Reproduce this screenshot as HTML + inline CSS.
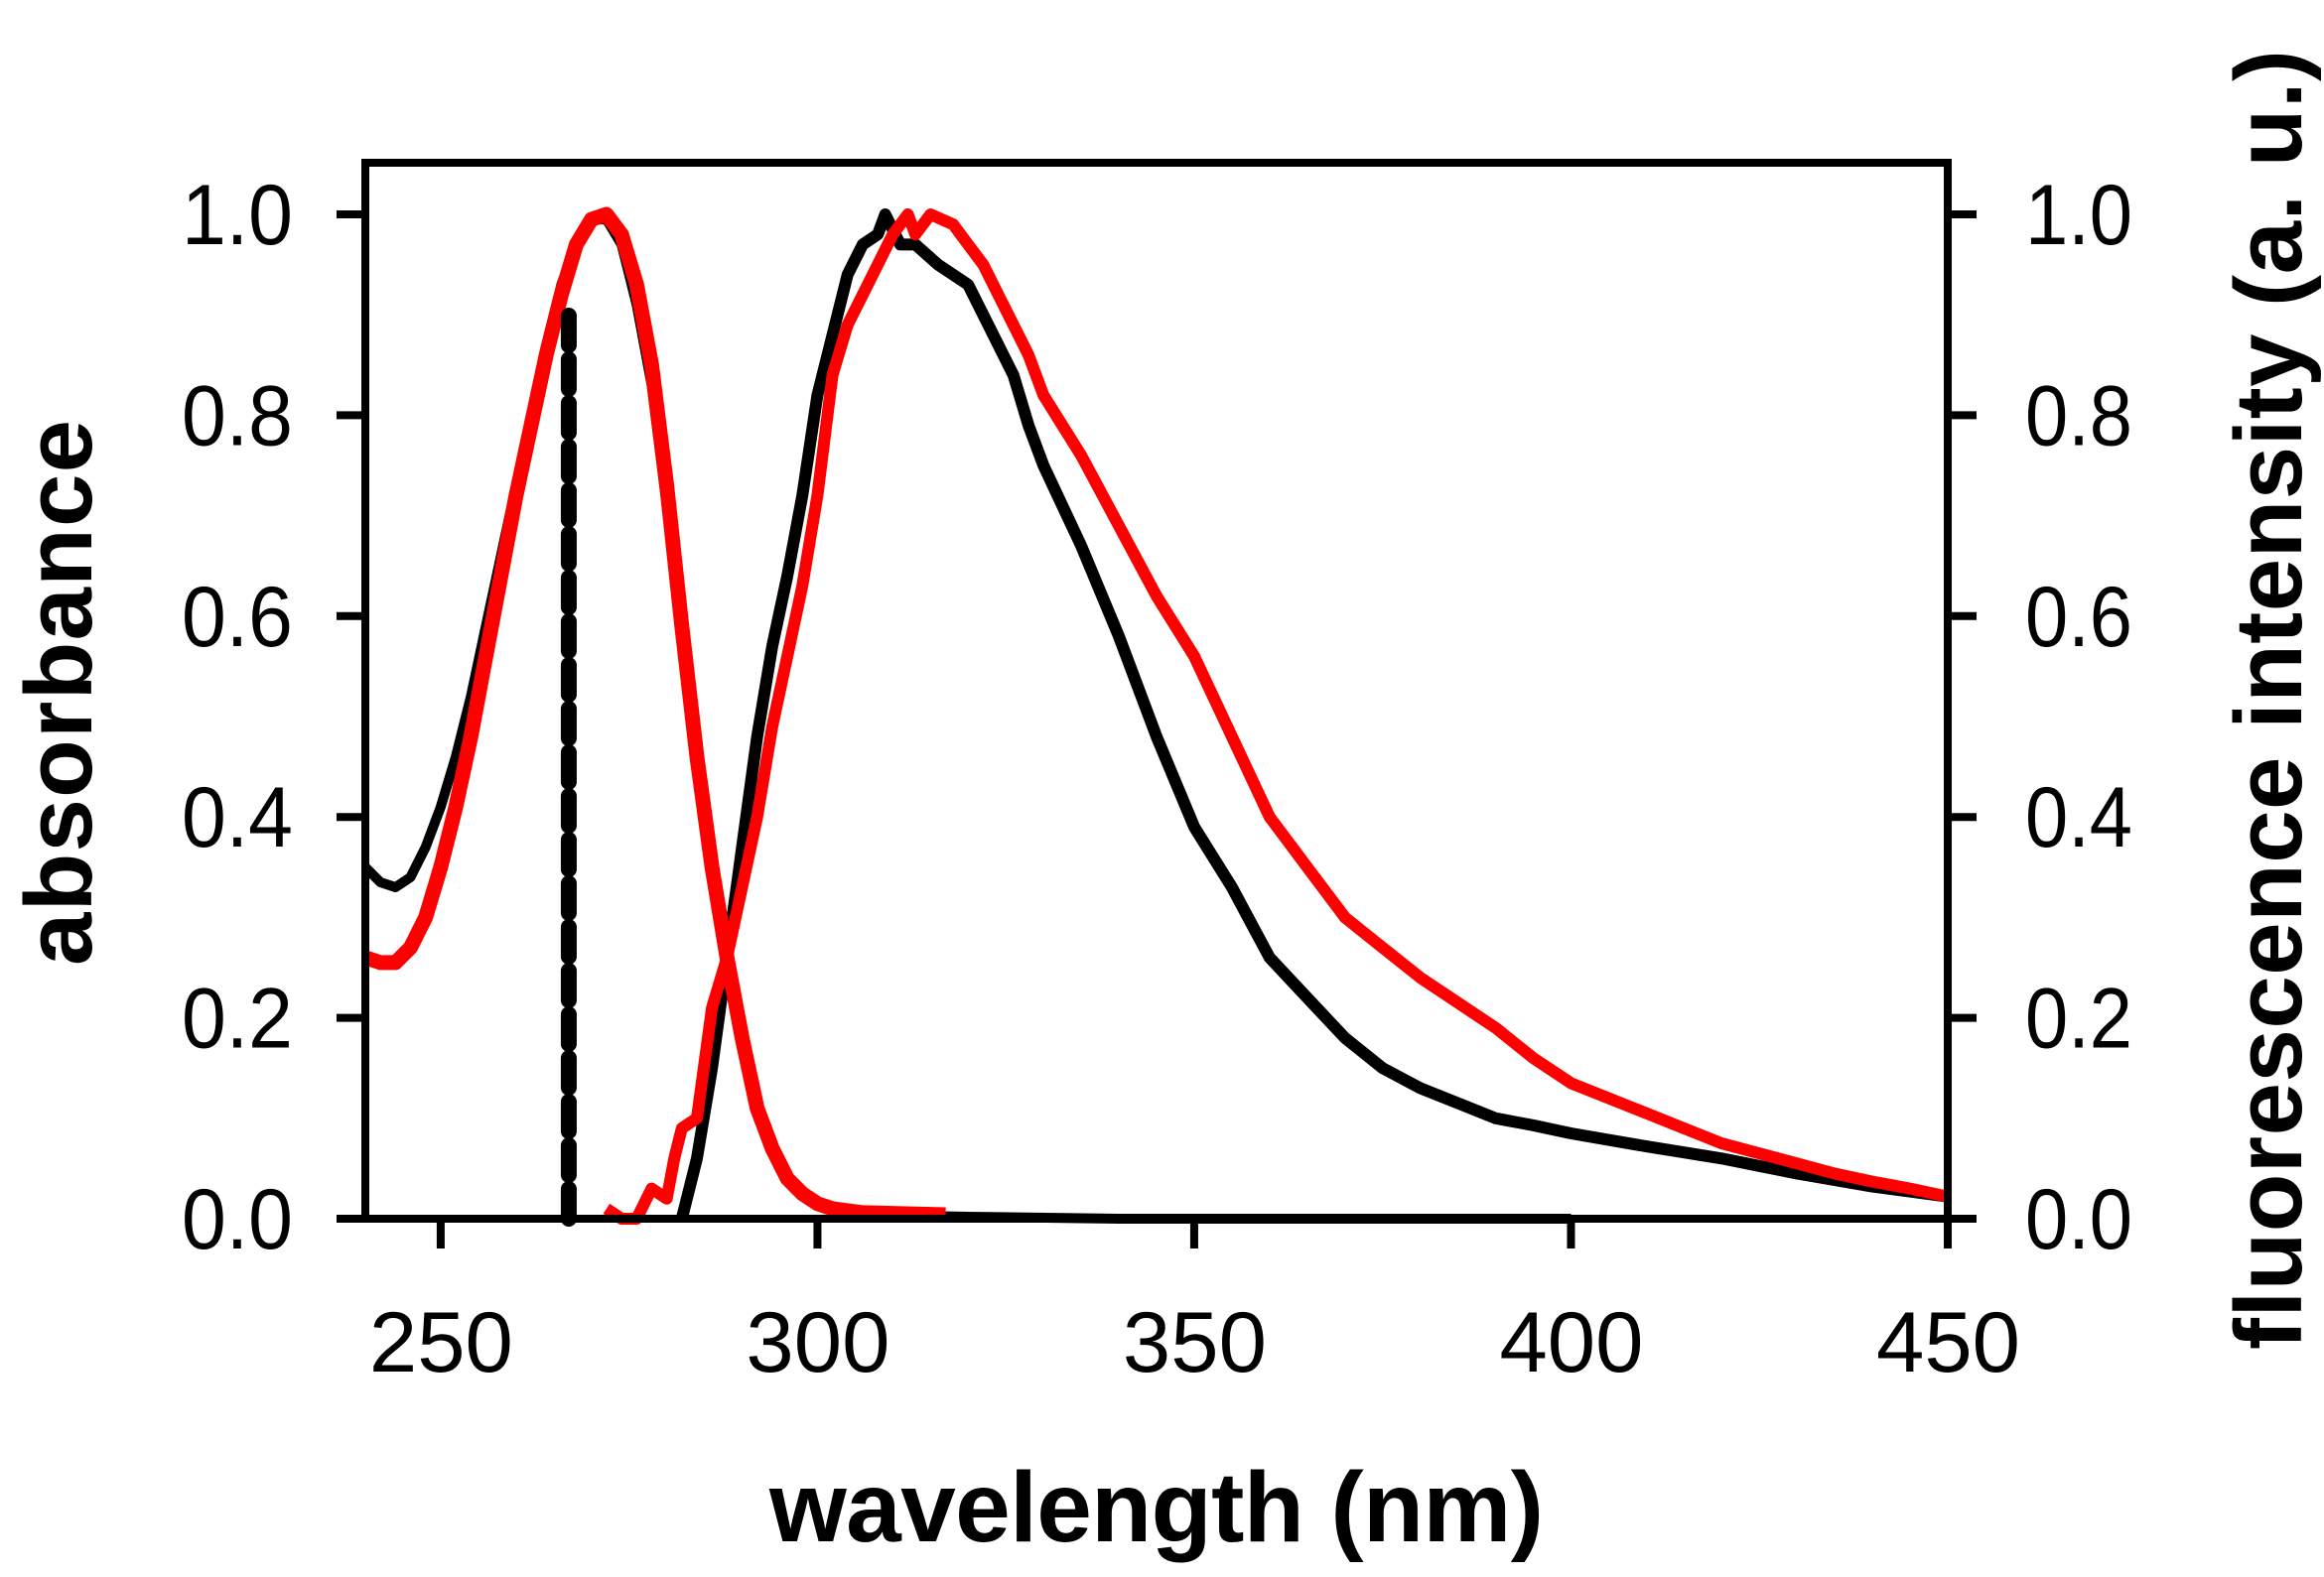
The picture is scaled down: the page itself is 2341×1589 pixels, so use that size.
<!DOCTYPE html>
<html><head><meta charset="utf-8"><style>
html,body{margin:0;padding:0;background:#fff;}
svg{display:block;font-family:"Liberation Sans",Arial,sans-serif;}
</style></head><body>
<svg id="chart" width="2341" height="1589" viewBox="0 0 2341 1589">
<g id="plot"></g>
<text x="1165" y="1553" font-size="100" font-weight="bold" text-anchor="middle" textLength="780">wavelength (nm)</text>
<text transform="translate(92,698) rotate(-90)" font-size="96" font-weight="bold" text-anchor="middle" textLength="550">absorbance</text>
<text transform="translate(2318,705) rotate(-90)" font-size="96" font-weight="bold" text-anchor="middle" textLength="1310">fluorescence intensity (a. u.)</text>
</svg>
<script>
const xTicks=[250,300,350,400,450];
const yTicks=[0,0.2,0.4,0.6,0.8,1.0];
const yTickLabels=["0.0","0.2","0.4","0.6","0.8","1.0"];
const absBlackWl=[240,242,244,246,248,250,252,254,256,258,260,262,264,266,268,270,272,274,276,278,280,282,284,286,288,290,292,294,296,298,300,302,306,320,340,400];
const absBlackVal=[.35,.335,.33,.34,.37,.41,.46,.52,.59,.66,.73,.80,.87,.93,.97,.995,.995,.97,.91,.83,.71,.58,.45,.34,.25,.18,.11,.07,.04,.025,.015,.008,.004,.002,0,0];
const absRedWl=[240,242,244,246,248,250,252,254,256,258,260,262,264,266,268,270,272,274,276,278,280,282,284,286,288,290,292,294,296,298,300,302,306,317];
const absRedVal=[.26,.255,.255,.27,.30,.35,.41,.48,.56,.64,.72,.79,.86,.92,.97,.995,1.0,.98,.93,.85,.73,.59,.46,.35,.26,.18,.11,.07,.04,.025,.015,.01,.006,.004];
const emBlackWl=[282,284,286,288,290,292,294,296,298,300,302,304,306,308,309,311,313,316,318,320,322,324,326,328,330,335,340,345,350,355,360,365,370,375,380,385,390,395,400,410,420,430,440,450];
const emBlackVal=[0,.06,.15,.26,.37,.48,.57,.64,.72,.82,.88,.94,.97,.98,1.0,.97,.97,.95,.94,.93,.90,.87,.84,.79,.75,.67,.58,.48,.39,.33,.26,.22,.18,.15,.13,.115,.10,.093,.085,.072,.06,.045,.032,.022];
const emRedWl=[272,274,276,278,280,281,282,284,286,288,290,292,294,296,298,300,302,304,306,308,310,312,313,315,318,320,322,324,326,328,330,335,340,345,350,355,360,365,370,375,380,385,390,395,400,405,410,415,420,425,430,435,440,445,450];
const emRedVal=[.01,0,0,.03,.02,.06,.09,.10,.21,.26,.33,.40,.49,.56,.63,.72,.84,.89,.92,.95,.98,1.0,.98,1.0,.99,.97,.95,.92,.89,.86,.82,.76,.69,.62,.56,.48,.40,.35,.30,.27,.24,.215,.19,.16,.135,.12,.105,.09,.075,.065,.055,.045,.037,.03,.022];
const excWl=[267];
const excVal=[0.9];

const NS="http://www.w3.org/2000/svg";
const L=368,R=1962,T=164,Y0=1228,Y1=216;
const xs=w=>L+(w-240)*(R-L)/210;
const ys=v=>Y0-v*(Y0-Y1);
const g=document.getElementById('plot');
function mk(tag,attrs){const e=document.createElementNS(NS,tag);for(const k in attrs)e.setAttribute(k,attrs[k]);g.appendChild(e);return e;}
function pts(wl,val){return wl.map((w,i)=>xs(w).toFixed(1)+","+ys(val[i]).toFixed(1)).join(" ");}

let p;
p=mk('polyline',{points:pts(absBlackWl,absBlackVal),fill:'none',stroke:'#000','stroke-width':10,'stroke-linejoin':'round'});


p=mk('polyline',{points:pts(emBlackWl,emBlackVal),fill:'none',stroke:'#000','stroke-width':12,'stroke-linejoin':'round'});


p=mk('polyline',{points:pts(absRedWl,absRedVal),fill:'none',stroke:'#ff0000','stroke-width':15,'stroke-linejoin':'round'});


p=mk('polyline',{points:pts(emRedWl,emRedVal),fill:'none',stroke:'#ff0000','stroke-width':12,'stroke-linejoin':'round'});


p=mk('line',{x1:xs(excWl[0]),x2:xs(excWl[0]),y1:ys(0),y2:ys(excVal[0]),stroke:'#000','stroke-width':16,'stroke-dasharray':'30 14','stroke-linecap':'round'});



p=mk('rect',{x:L,y:T,width:R-L,height:Y0-T,fill:'none',stroke:'#000','stroke-width':8});



xTicks.forEach(t=>{
  const x=xs(t);
  const tk=mk('line',{x1:x,x2:x,y1:Y0,y2:Y0+30,stroke:'#000','stroke-width':8});
  
  
  const tx=mk('text',{x:x-72,y:1382,'font-size':86,'text-anchor':'start',textLength:145,lengthAdjust:'spacingAndGlyphs'});
  tx.textContent=t;
  
  
});
yTicks.forEach((t,i)=>{
  const y=ys(t);
  const a=mk('line',{x1:L-29,x2:L,y1:y,y2:y,stroke:'#000','stroke-width':8});
  
  
  const b=mk('line',{x1:R,x2:R+29,y1:y,y2:y,stroke:'#000','stroke-width':8});
  
  
  const l=mk('text',{x:183,y:y+30,'font-size':86,'text-anchor':'start',textLength:112,lengthAdjust:'spacingAndGlyphs'});
  l.textContent=yTickLabels[i];
  
  
  const r=mk('text',{x:2040,y:y+30,'font-size':86,'text-anchor':'start',textLength:108,lengthAdjust:'spacingAndGlyphs'});
  r.textContent=yTickLabels[i];
  
  
});
</script>
</body></html>
